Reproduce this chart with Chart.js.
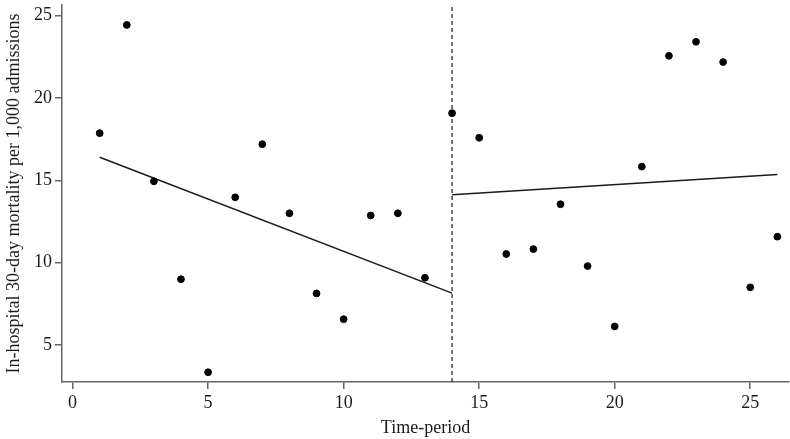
<!DOCTYPE html>
<html>
<head>
<meta charset="utf-8">
<script src="https://cdn.jsdelivr.net/npm/chart.js@4"></script>
<style>
  body { margin: 0; background: #fff; }
</style>
</head>
<body>
<canvas id="itsChart" width="790" height="439"></canvas>
<script>
// Observed values per time-period
const periods = [1, 2, 3, 4, 5, 6, 7, 8, 9, 10, 11, 12, 13, 14, 15, 16, 17, 18, 19, 20, 21, 22, 23, 24, 25, 26];
const mortality = [17.86, 24.42, 14.94, 9.0, 3.36, 13.97, 17.19, 13.0, 8.14, 6.58, 12.87, 13.0, 9.09,
                   19.07, 17.58, 10.53, 10.83, 13.55, 9.8, 6.14, 15.83, 22.55, 23.4, 22.17, 8.51, 11.58];

// Fitted segments (start/end)
const preX = [1, 14];
const preFit = [16.4, 8.16];
const postX = [14, 26];
const postFit = [14.13, 15.35];

const interventionAt = 14;
const xTicks = [0, 5, 10, 15, 20, 25];
const yTicks = [5, 10, 15, 20, 25];
const xRange = [-0.39, 26.43];
const yRange = [2.77, 25.63];

const serif = 'Liberation Serif';
const axisGray = '#666';
const inkColor = '#1a1a1a';

function pairs(xs, ys) {
    return xs.map((x, i) => ({ x: x, y: ys[i] }));
}

new Chart(document.getElementById('itsChart'), {
    type: 'scatter',
    data: {
        datasets: [
            {
                label: 'observed',
                data: pairs(periods, mortality),
                backgroundColor: '#000',
                borderColor: '#000',
                pointRadius: 3.4,
                pointHoverRadius: 3.4
            },
            {
                label: 'pre',
                type: 'line',
                data: pairs(preX, preFit),
                borderColor: '#1a1a1a',
                borderWidth: 1.5,
                pointRadius: 0,
                fill: false
            },
            {
                label: 'post',
                type: 'line',
                data: pairs(postX, postFit),
                borderColor: '#1a1a1a',
                borderWidth: 1.5,
                pointRadius: 0,
                fill: false
            },
            {
                label: 'intervention',
                type: 'line',
                data: pairs([interventionAt, interventionAt], yRange),
                borderColor: '#1a1a1a',
                borderWidth: 1.2,
                borderDash: [4, 3],
                pointRadius: 0,
                fill: false
            }
        ]
    },
    options: {
        responsive: false,
        animation: false,
        layout: { autoPadding: false, padding: { top: 5, right: 1, left: 0, bottom: 0 } },
        plugins: {
            legend: { display: false },
            tooltip: { enabled: false }
        },
        scales: {
            x: {
                type: 'linear',
                min: xRange[0],
                max: xRange[1],
                afterBuildTicks: scale => { scale.ticks = xTicks.map(v => ({ value: v })); },
                afterFit: scale => {
                    scale.height = 57;
                    scale.paddingLeft = 0;
                    scale.paddingRight = 0;
                },
                grid: { display: true, drawOnChartArea: false, drawTicks: true, tickLength: 7, color: axisGray, lineWidth: 1.5 },
                border: { display: true, color: axisGray, width: 1.5 },
                ticks: { color: inkColor, font: { family: serif, size: 18 }, padding: 3, maxRotation: 0 },
                title: { display: true, text: 'Time-period', color: inkColor, font: { family: serif, size: 18 }, padding: { top: 0, bottom: 0 } }
            },
            y: {
                type: 'linear',
                min: yRange[0],
                max: yRange[1],
                afterBuildTicks: scale => { scale.ticks = yTicks.map(v => ({ value: v })); },
                afterFit: scale => {
                    scale.width = 62;
                    scale.paddingTop = 0;
                    scale.paddingBottom = 0;
                },
                grid: { display: true, drawOnChartArea: false, drawTicks: true, tickLength: 7, color: axisGray, lineWidth: 1.5 },
                border: { display: true, color: axisGray, width: 1.5 },
                ticks: { color: inkColor, font: { family: serif, size: 18 }, padding: 3 },
                title: { display: true, text: 'In-hospital 30-day mortality per 1,000 admissions', color: inkColor, font: { family: serif, size: 18 }, padding: { top: 3, bottom: 0 } }
            }
        }
    }
});
</script>
</body>
</html>
